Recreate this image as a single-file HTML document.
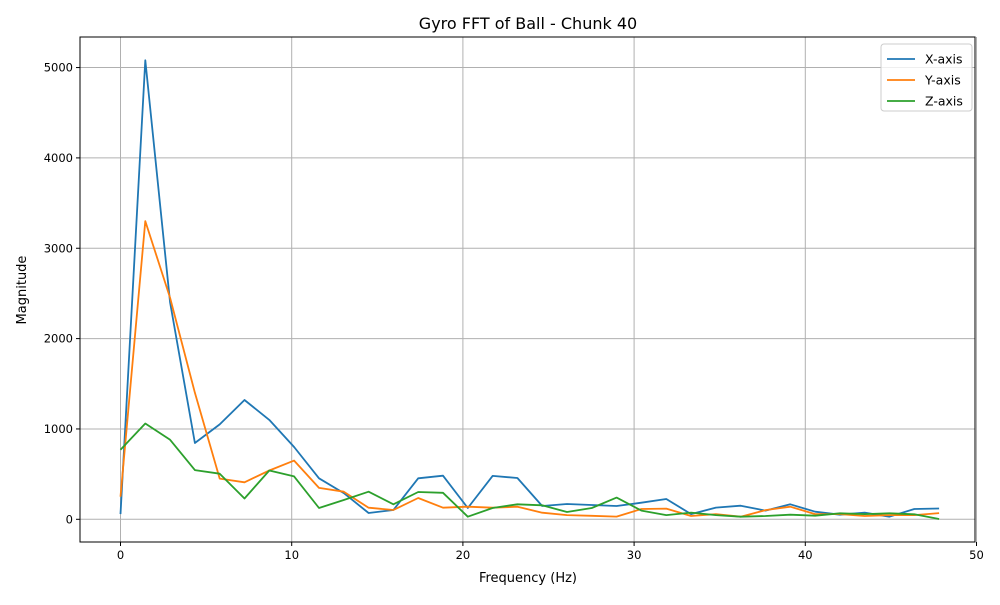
<!DOCTYPE html>
<html><head><meta charset="utf-8"><style>
body{margin:0;background:#fff;font-family:"Liberation Sans","DejaVu Sans",sans-serif}
svg text{font-family:"DejaVu Sans","Liberation Sans",sans-serif;fill:#000}
</style></head><body>
<svg id="c" width="1000" height="600" viewBox="0 0 1000 600">
<rect x="0" y="0" width="1000" height="600" fill="#fff"/>
<text x="528" y="29" font-size="16" text-anchor="middle">Gyro FFT of Ball - Chunk 40</text>
<g id="grid"></g>
<g id="series"></g>
<rect x="80" y="37" width="895" height="505" fill="none" stroke="#000" stroke-width="1"/>
<g id="ticks"></g>
<text x="528" y="582" font-size="13" text-anchor="middle">Frequency (Hz)</text>
<text x="26" y="290" font-size="13" text-anchor="middle" transform="rotate(-90 26 290)">Magnitude</text>
<g id="legend">
<rect x="881" y="44" width="91" height="67" rx="3" fill="#fff" fill-opacity="0.8" stroke="#ccc"/>
</g>
</svg>
<script>
const stepHz = 1.449;
const xData = [58,5080,2400,845,1050,1320,1100,800,454,290,70,103,454,483,125,480,457,147,169,158,147,184,225,58,129,151,96,166,84,51,73,29,114,120];
const yData = [250,3300,2450,1400,450,410,540,650,347,306,128,103,236,128,140,128,140,73,47,39,30,114,118,36,58,29,102,140,58,58,36,47,47,69];
const zData = [770,1060,880,545,505,230,540,475,125,214,306,166,302,293,29,125,166,155,81,125,240,96,47,74,47,29,36,51,40,66,58,66,55,3];
const xTicks = [0,10,20,30,40,50];
const yTicks = [0,1000,2000,3000,4000,5000];
const seriesNames = ["X-axis","Y-axis","Z-axis"];
const colors = ["#1f77b4","#ff7f0e","#2ca02c"];
const NS="http://www.w3.org/2000/svg";
const L=80,R=975,T=37,B=542;
const xs=v=>120.5+v*17.12;
const ys=v=>519.3-v*0.09035;
function mk(tag,attrs,parent){const e=document.createElementNS(NS,tag);for(const k in attrs)e.setAttribute(k,attrs[k]);parent.appendChild(e);return e;}
const grid=document.getElementById('grid'),ticks=document.getElementById('ticks'),ser=document.getElementById('series'),leg=document.getElementById('legend');
xTicks.forEach(t=>{const x=xs(t);
 const g=mk('line',{x1:x,x2:x,y1:T,y2:B,stroke:'#b0b0b0','stroke-width':1},grid);
 
 
 const tk=mk('line',{x1:x,x2:x,y1:B,y2:B+4,stroke:'#000'},ticks);
 
 
 const tx=mk('text',{x:x,y:B+17,'font-size':11.5,'text-anchor':'middle'},ticks);tx.textContent=t;
 
 
});
yTicks.forEach(t=>{const y=ys(t);
 const g=mk('line',{x1:L,x2:R,y1:y,y2:y,stroke:'#b0b0b0','stroke-width':1},grid);
 
 
 const tk=mk('line',{x1:L-4,x2:L,y1:y,y2:y,stroke:'#000'},ticks);
 
 
 const tx=mk('text',{x:L-7,y:y+4,'font-size':11.5,'text-anchor':'end'},ticks);tx.textContent=t;
 
 
});
[xData,yData,zData].forEach((d,si)=>{
 const pts=d.map((v,i)=>xs(i*stepHz).toFixed(1)+','+ys(v).toFixed(1)).join(' ');
 const p=mk('polyline',{points:pts,fill:'none',stroke:colors[si],'stroke-width':1.8,'stroke-linejoin':'round'},ser);
 
 
 const ly=59+si*21;
 const ll=mk('line',{x1:887,x2:915,y1:ly,y2:ly,stroke:colors[si],'stroke-width':1.8},leg);
 
 
 const lt=mk('text',{x:925,y:ly+4.5,'font-size':12.5},leg);lt.textContent=seriesNames[si];
 
 
});
</script>
</body></html>
